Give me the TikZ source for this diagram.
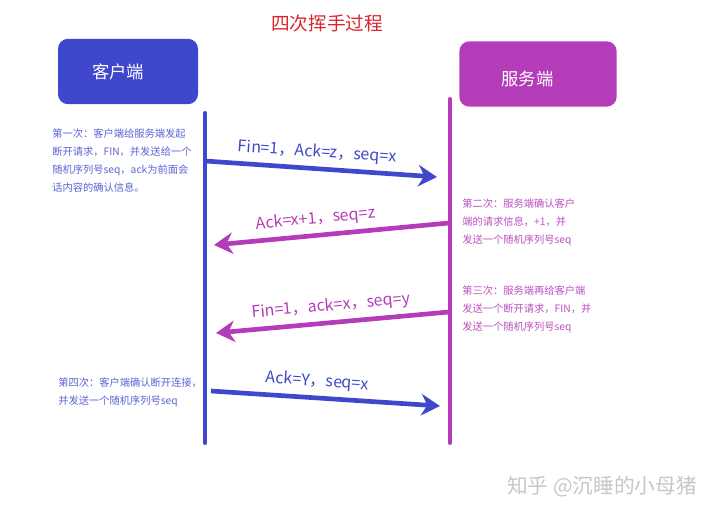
\documentclass[tikz,border=0pt]{standalone}
\usepackage{fontspec}
\setmainfont{Noto Sans CJK SC}
\usetikzlibrary{arrows.meta}

\definecolor{clientblue}{HTML}{3F48CC}
\definecolor{serverpurple}{HTML}{B43CB9}
\definecolor{titlered}{HTML}{D9262C}

\begin{document}
\begin{tikzpicture}[x=0.75pt,y=-0.75pt,
		endbox/.style={rounded corners=7.5pt,minimum height=49pt,text=white,font=\fontsize{13}{15}\selectfont},
		lifeline/.style={line width=3pt,line cap=round},
		msg/.style={line width=3.5pt,-{Stealth[length=14pt,width=16pt,inset=4.5pt]}},
		msglabel/.style={font=\fontsize{12}{14}\selectfont,sloped,above=1pt},
		note/.style={font=\fontsize{7.7}{13.4}\selectfont,align=left,anchor=north west,inner sep=0pt}]
		
		\useasboundingbox (0,0) rectangle (720,516);
		
		\node[text=titlered,font=\fontsize{14}{16}\selectfont] (title) at (327,23) {四次挥手过程};
		
		% the two ends
		\node[endbox,fill=clientblue,minimum width=105pt] (client) at (128,71.5) {\hspace{-15pt}客户端};
		\node[endbox,fill=serverpurple,minimum width=118pt] (server) at (538,74) {\hspace{-16pt}\raisebox{-8.5pt}[0pt][0pt]{服务端}};
		
		\coordinate (clienttop) at (205,113);
		\coordinate (clientbot) at (205,443);
		\coordinate (servertop) at (450,99);
		\coordinate (serverbot) at (450,443);
		\draw[lifeline,clientblue] (clienttop) -- (clientbot);
		\draw[lifeline,serverpurple] (servertop) -- (serverbot);
		
		% four messages
		\coordinate (fin1from) at (205,161);
		\coordinate (fin1to) at (437,177);
		\coordinate (ack1from) at (449,223);
		\coordinate (ack1to) at (214,245);
		\coordinate (fin2from) at (449,312);
		\coordinate (fin2to) at (216,333);
		\coordinate (ack2from) at (211,391);
		\coordinate (ack2to) at (440,406);
		
		\draw[msg,clientblue] (fin1from) -- node[msglabel,pos=0.48,text=clientblue]{Fin=1，Ack=z，seq=x} (fin1to);
		\draw[msg,serverpurple] (ack1from) -- node[msglabel,pos=0.56,text=serverpurple]{Ack=x+1，seq=z} (ack1to);
		\draw[msg,serverpurple] (fin2from) -- node[msglabel,pos=0.5,text=serverpurple]{Fin=1，ack=x，seq=y} (fin2to);
		\draw[msg,clientblue] (ack2from) -- node[msglabel,pos=0.46,text=clientblue]{Ack=Y，seq=x} (ack2to);
		
		% notes
		\node[note,text=clientblue!85] (note1) at (52,129) {第一次：客户端给服务端发起\\断开请求，FIN，并发送给一个\\随机序列号seq，ack为前面会\\话内容的确认信息。};
		\node[note,text=serverpurple!90] (note2) at (462,199) {第二次：服务端确认客户\\端的请求信息，+1，并\\发送一个随机序列号seq};
		\node[note,text=serverpurple!90] (note3) at (462,286) {第三次：服务端再给客户端\\发送一个断开请求，FIN，并\\发送一个随机序列号seq};
		\node[note,text=clientblue!85] (note4) at (58,378) {第四次：客户端确认断开连接，\\并发送一个随机序列号seq};
		
		\node[text=black!22,font=\fontsize{15.5}{18}\selectfont] (mark) at (602,487) {知乎 @沉睡的小母猪};
		
	\end{tikzpicture}
\end{document}
